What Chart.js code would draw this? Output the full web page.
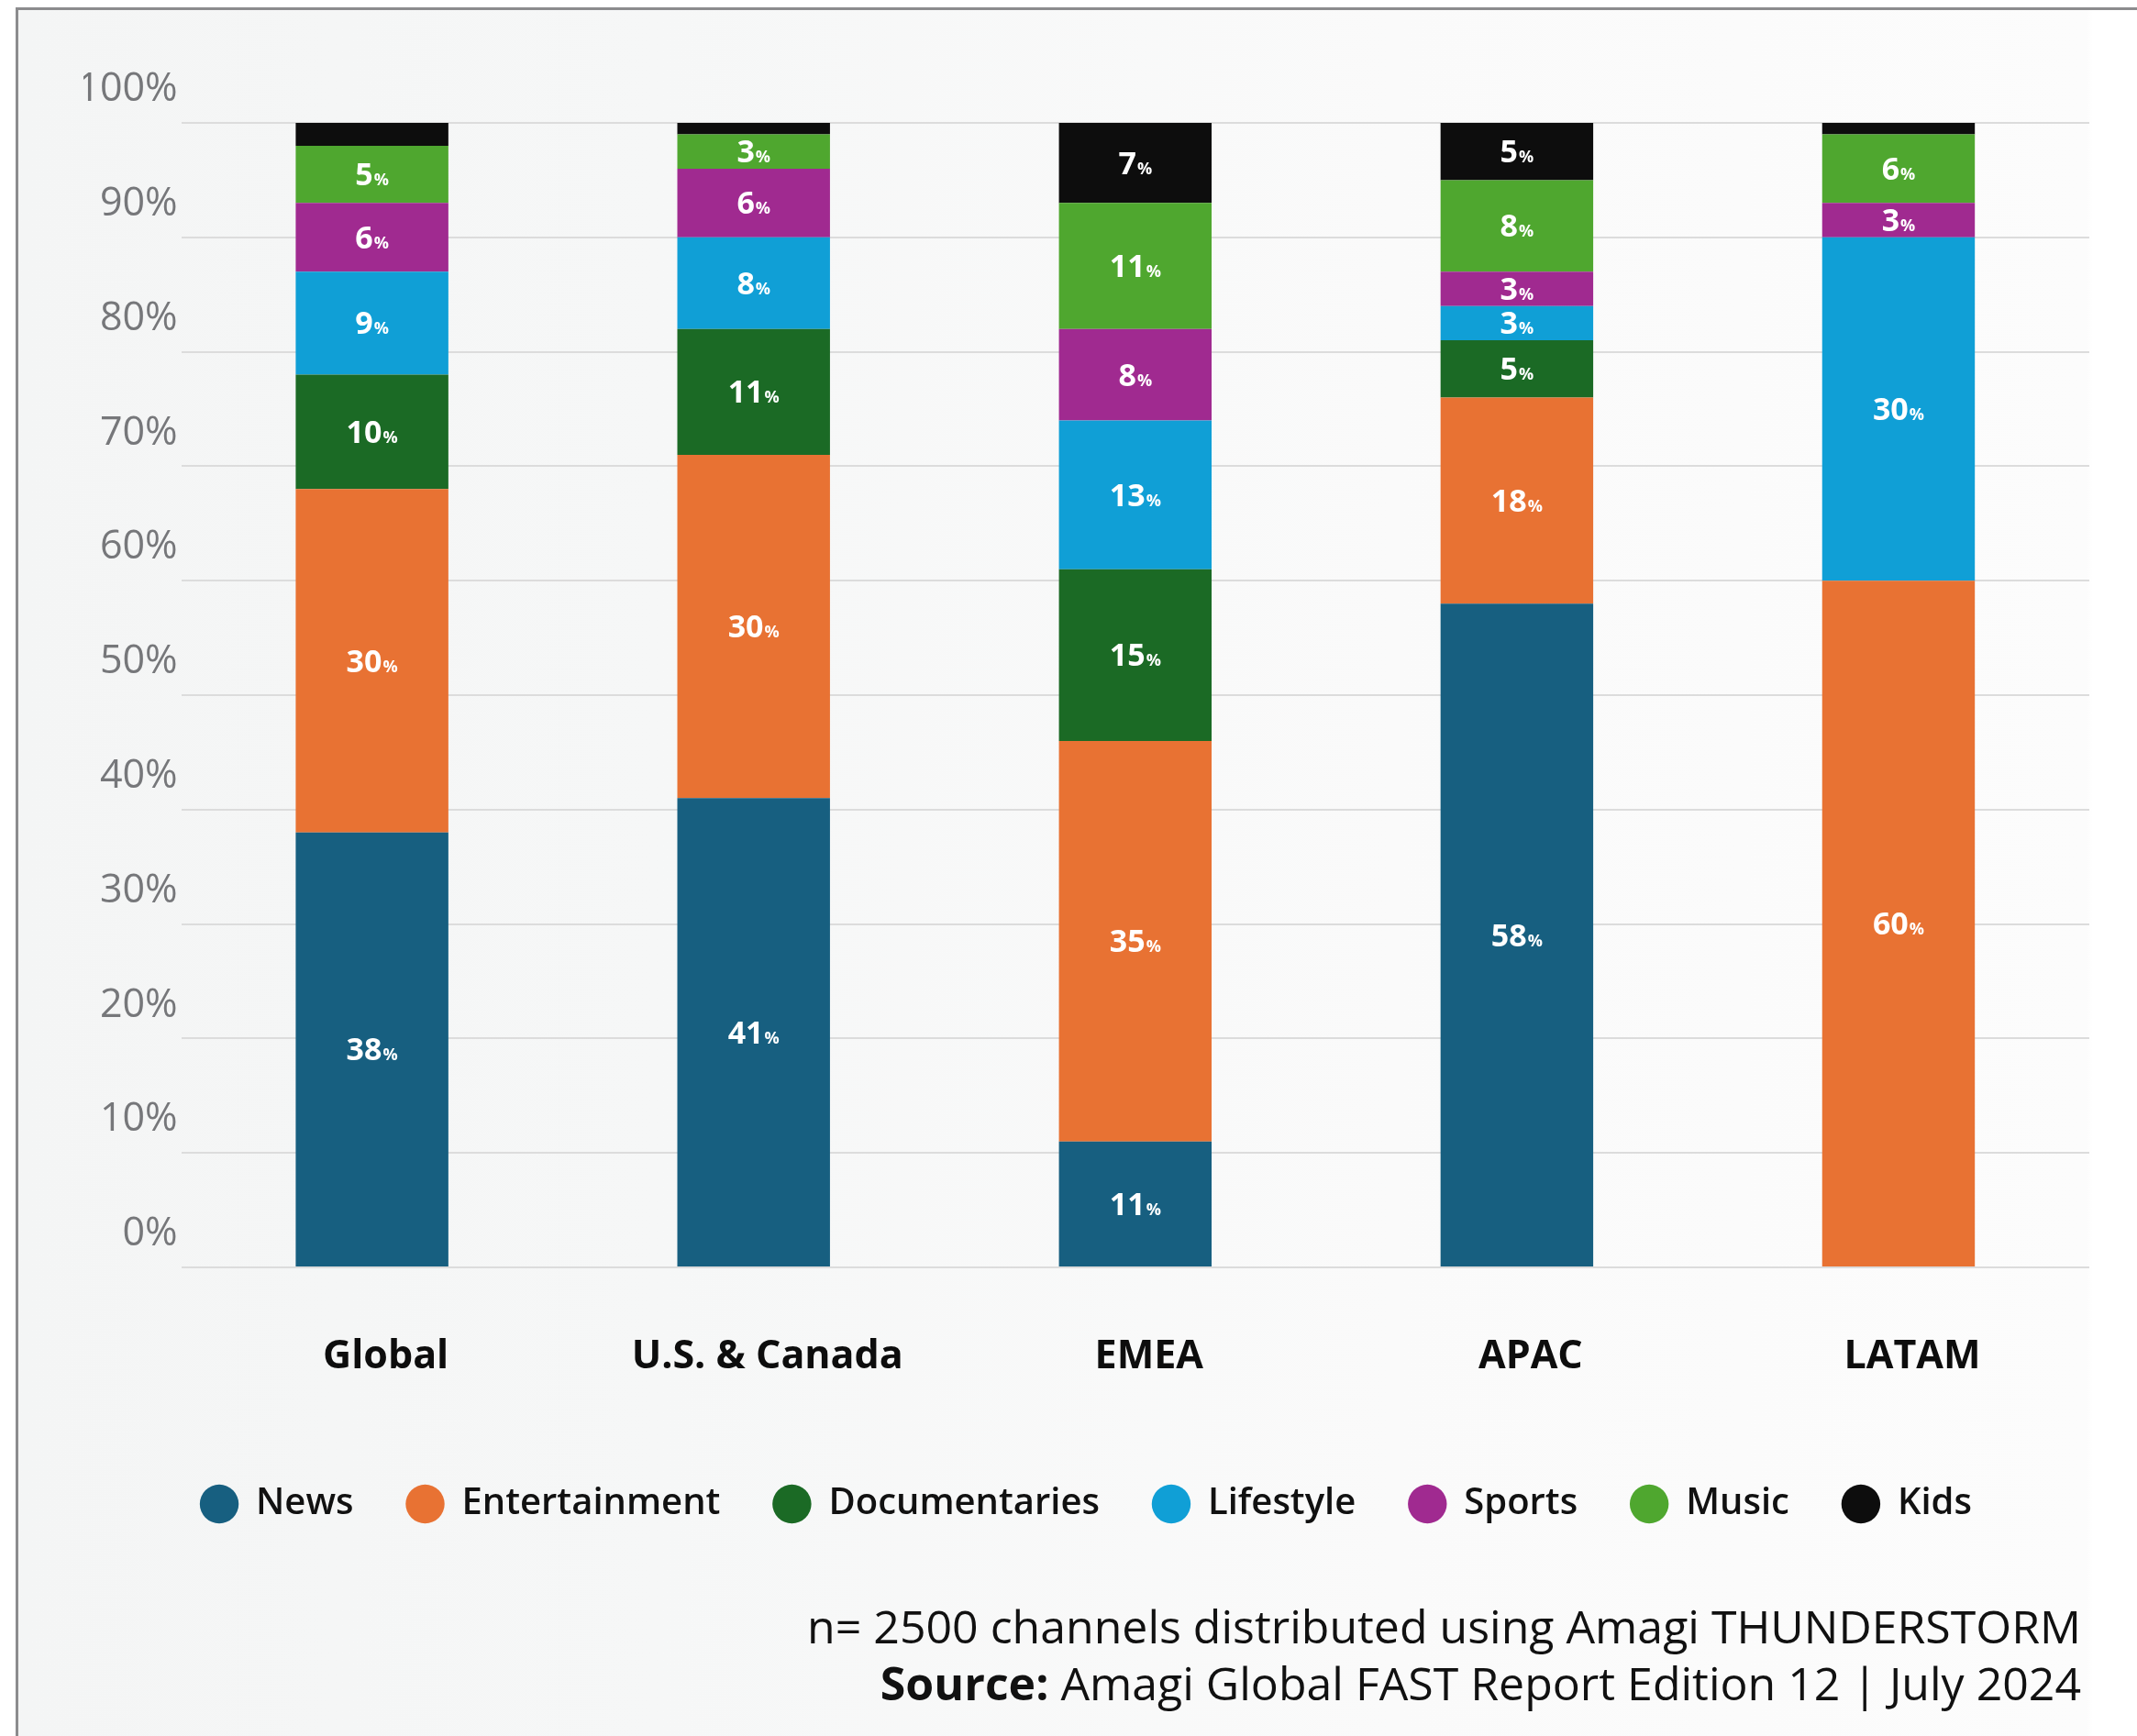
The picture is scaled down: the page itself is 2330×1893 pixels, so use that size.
<!DOCTYPE html>
<html lang="en">
<head>
<meta charset="utf-8">
<title>FAST channel genre mix by region</title>
<script src="https://cdn.jsdelivr.net/npm/chart.js@4.4.1/dist/chart.umd.min.js"></script>
<style>
    html, body {
        margin: 0;
        padding: 0;
        background: #ffffff;
    }

    .panel {
        position: relative;
        width: 2330px;
        height: 1893px;
        overflow: hidden;
        background: #ffffff;
        font-family: 'Open Sans', sans-serif;
    }

    .frame {
        position: absolute;
        left: 17px;
        top: 8px;
        width: 2320px;
        height: 1900px;
        border-left: 3px solid #8c8c8e;
        border-top: 3px solid #8c8c8e;
        background: linear-gradient(to right, #f4f5f5 0px, #f6f7f7 700px, #fafafa 1500px, #fcfcfc 2255px, #ffffff 2262px);
    }

    #chart {
        position: absolute;
        left: 0;
        top: 0;
    }

    .footnote {
        position: absolute;
        right: 61px;
        top: 1742px;
        text-align: right;
        font-size: 50px;
        line-height: 62px;
        color: #111111;
        font-weight: 400;
        white-space: nowrap;
    }

    .footnote b {
        font-weight: 700;
    }
</style>
</head>
<body>
<div class="panel">
    <div class="frame"></div>
    <canvas id="chart" width="2330" height="1893"></canvas>
    <div class="footnote">
        <div>n= 2500 channels distributed using Amagi THUNDERSTORM</div>
        <div><b>Source:</b> Amagi Global FAST Report Edition 12 | July 2024</div>
    </div>
</div>

<script>
/**=================
 * Data
 =================*/
const regions = ['Global', 'U.S. & Canada', 'EMEA', 'APAC', 'LATAM'];
const genres = ['News', 'Entertainment', 'Documentaries', 'Lifestyle', 'Sports', 'Music', 'Kids'];

const news = [38, 41, 11, 58, 0];
const entertainment = [30, 30, 35, 18, 60];
const documentaries = [10, 11, 15, 5, 0];
const lifestyle = [9, 8, 13, 3, 30];
const sports = [6, 6, 8, 3, 3];
const music = [5, 3, 11, 8, 6];
const kids = [2, 1, 7, 5, 1];

const genreColors = ['#175f80', '#e87233', '#1b6a25', '#109fd6', '#a02a90', '#4fa72f', '#0d0d0d'];

const yTickStep = 10;
const yMax = 100;

/**=================
 * Segment labels
 =================*/
// value in bold, with a small "%" sitting on the same baseline
const segmentLabels = {
    id: 'segmentLabels',
    afterDatasetsDraw(chart) {
        const ctx = chart.ctx;
        const numFont = "700 34px 'Open Sans', sans-serif";
        const pctFont = "700 18px 'Open Sans', sans-serif";
        ctx.save();
        ctx.fillStyle = '#ffffff';
        ctx.textBaseline = 'alphabetic';
        ctx.textAlign = 'left';

        chart.data.datasets.forEach((ds, i) => {
            const meta = chart.getDatasetMeta(i);
            if (meta.hidden) return;
            meta.data.forEach((bar, j) => {
                const value = ds.data[j];
                // thin slivers (1-2%) carry no label
                if (!value || value < 3) return;
                const { x, y, base } = bar.getProps(['x', 'y', 'base'], true);
                const cy = (y + base) / 2;

                const num = String(value);
                ctx.font = numFont;
                const numWidth = ctx.measureText(num).width;
                ctx.font = pctFont;
                const pctWidth = ctx.measureText('%').width;

                const startX = x - (numWidth + pctWidth + 1) / 2;
                const baseline = cy + 12;

                ctx.font = numFont;
                ctx.fillText(num, startX, baseline);
                ctx.font = pctFont;
                ctx.fillText('%', startX + numWidth + 1, baseline);
            });
        });
        ctx.restore();
    }
};

/**=================
 * Chart
 =================*/
Chart.defaults.font.family = "'Open Sans', sans-serif";

const seriesValues = [news, entertainment, documentaries, lifestyle, sports, music, kids];

const chartCtx = document.getElementById('chart');
const genreChart = new Chart(chartCtx, {
    type: 'bar',
    data: {
        labels: regions,
        datasets: genres.map((name, i) => ({
            label: name,
            data: seriesValues[i],
            backgroundColor: genreColors[i],
            borderWidth: 0,
            barPercentage: 1,
            categoryPercentage: 0.4
        }))
    },
    options: {
        responsive: false,
        animation: false,
        layout: {
            padding: { left: 91, right: 52, top: 134, bottom: 226 }
        },
        scales: {
            x: {
                stacked: true,
                grid: { display: false },
                border: { display: false },
                ticks: {
                    color: '#0d0d0d',
                    padding: 64,
                    labelOffset: 15,
                    maxRotation: 0,
                    font: { size: 43, weight: '700' }
                },
                afterFit: (scale) => {
                    scale.height = 180;
                }
            },
            y: {
                stacked: true,
                min: 0,
                max: yMax,
                grid: {
                    color: '#dcdcdc',
                    lineWidth: 2,
                    drawTicks: false
                },
                border: { display: false },
                ticks: {
                    stepSize: yTickStep,
                    color: '#76777a',
                    padding: 4,
                    labelOffset: -36,
                    font: { size: 43, weight: '400' },
                    callback: (v) => `${v}%`
                },
                afterFit: (scale) => {
                    scale.width = 106.6;
                }
            }
        },
        plugins: {
            legend: {
                position: 'bottom',
                maxHeight: 105,
                labels: {
                    usePointStyle: true,
                    pointStyle: 'circle',
                    boxWidth: 40,
                    boxHeight: 30,
                    padding: 58,
                    color: '#111111',
                    font: { size: 40, weight: '600' }
                }
            },
            tooltip: { enabled: false }
        }
    },
    plugins: [segmentLabels]
});
</script>
</body>
</html>
